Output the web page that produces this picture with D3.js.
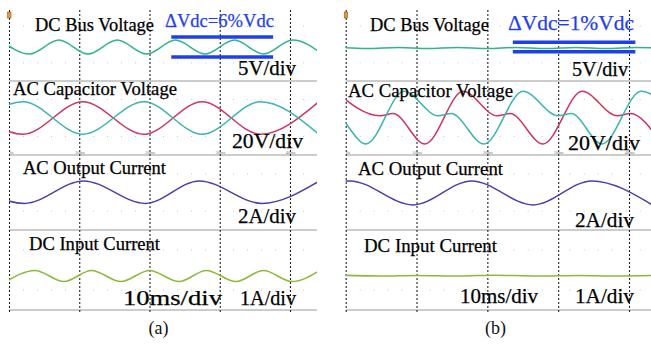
<!DOCTYPE html>
<html>
<head>
<meta charset="utf-8">
<script src="https://cdn.jsdelivr.net/npm/d3@7"></script>
<style>
  html, body { margin: 0; padding: 0; background: #fff; }
  svg { display: block; }
  text { font-family: "Liberation Serif", "Times New Roman", serif; }
</style>
</head>
<body>
<div id="chart"></div>
<script>
// shared axis / label text
const timeTicks = [0, 10, 20, 30, 40]
const tickLabels = ['0s', '10ms', '20ms', '30ms', '40ms']
const rowTitles = ['DC Bus Voltage', 'AC Capacitor Voltage', 'AC Output Current', 'DC Input Current']
const scaleLabels = ['5V/div', '20V/div', '2A/div', '1A/div']
const timeLabel = '10ms/div'
const panelLabels = ['(a)', '(b)']
const rippleLabels = ['ΔVdc=6%Vdc', 'ΔVdc=1%Vdc']

// traces: [time in ms, value in divisions from the row centre]
// (a) conventional
const dcBusA = [[-1.2, 0.12], [2.9, -0.26], [7.1, 0.12], [11.25, -0.26], [15.4, 0.12], [19.6, -0.26], [23.7, 0.12], [27.9, -0.26], [32.1, 0.12], [36.2, -0.26], [40.4, 0.12], [44.6, -0.26]]
const capTealA = [[-6.3, -0.44], [2.0, 0.44], [10.5, -0.44], [19.2, 0.44], [27.5, -0.44], [35.8, 0.44], [44.1, -0.44]]
const capRedA = [[-6.3, 0.44], [2.0, -0.44], [10.5, 0.44], [19.2, -0.44], [27.5, 0.44], [35.8, -0.44], [44.1, 0.44]]
const acOutA = [[-6.0, 0.31], [2.2, -0.29], [10.6, 0.31], [19.4, -0.29], [27.1, 0.31], [36.0, -0.29], [44.2, 0.31]]
const dcInA = [[-0.4, -0.29], [3.7, -0.01], [7.83, -0.29], [11.74, -0.01], [15.94, -0.29], [20.0, -0.01], [24.2, -0.29], [28.11, -0.01], [32.31, -0.29], [36.23, -0.01], [40.28, -0.29], [44.27, -0.01]]
const rippleBandA = [0.205, -0.34]
const rippleSpanA = [23.1, 37.6]

// (b) proposed
const dcBusB = [[-1, -0.08], [3, -0.11], [7.5, -0.08], [11.5, -0.11], [15.8, -0.08], [20, -0.11], [24, -0.08], [28.3, -0.11], [32.5, -0.08], [36.7, -0.11], [41, -0.08], [45, -0.11]]
const capRedB = [[-1.5, 0.72], [4.84, 0.06], [6.68, 0.12], [11.2, -0.70], [16.57, 0.72], [21.37, 0.06], [23.2, 0.12], [27.87, -0.70], [33.38, 0.72], [38.33, 0.06], [40.16, 0.12], [44.6, -0.70]]
const capTealB = [[-3.5, 0.06], [-1.7, 0.12], [2.87, -0.70], [8.23, 0.72], [13.04, 0.06], [14.87, 0.12], [19.53, -0.70], [25.04, 0.72], [29.98, 0.06], [31.82, 0.12], [36.2, -0.70], [41.71, 0.72], [46.6, 0.06]]
const acOutB = [[-8, -0.33], [0.6, 0.31], [9.5, -0.33], [17.8, 0.31], [26.45, -0.33], [34.75, 0.31], [43.3, -0.33]]
const dcInB = [[-1, -0.13], [5, -0.15], [10, -0.135], [16, -0.15], [21, -0.13], [27, -0.15], [33, -0.135], [38, -0.15], [44, -0.135]]
const rippleBandB = [0.06, -0.197]
const rippleSpanB = [23.6, 40.9]

const W = 651, H = 345
const rowEdges = [8, 81, 155, 230, 310]
const blue = '#1f3fef'

const svg = d3.select('#chart').append('svg')
  .attr('width', W)
  .attr('height', H)

const panels = [
  {
    id: 'a', x0: 9, x40: 290, right: 317,
    traces: [
      { row: 0, data: dcBusA, color: '#2fb48c' },
      { row: 1, data: capRedA, color: '#cf3460' },
      { row: 1, data: capTealA, color: '#3ab4b0' },
      { row: 2, data: acOutA, color: '#4a3ea8' },
      { row: 3, data: dcInA, color: '#8cb83c' }
    ],
    band: rippleBandA, span: rippleSpanA, ripple: rippleLabels[0],
    // [x, baseline, textLength]
    titlePos: [[35, 31, 119], [13, 95, 164], [23, 174, 143], [29, 250, 131]],
    scalePos: [[238, 75, 58], [232, 148, 71], [238, 222.5, 58], [240, 305, 56]],
    timePos: [123, 305, 99],
    ripplePos: [165, 27, 109, 19],
    labelX: 158.5
  },
  {
    id: 'b', x0: 345.7, x40: 629, right: 651,
    traces: [
      { row: 0, data: dcBusB, color: '#2fb48c' },
      { row: 1, data: capRedB, color: '#cf3460' },
      { row: 1, data: capTealB, color: '#3ab4b0' },
      { row: 2, data: acOutB, color: '#4a3ea8' },
      { row: 3, data: dcInB, color: '#8cb83c' }
    ],
    band: rippleBandB, span: rippleSpanB, ripple: rippleLabels[1],
    titlePos: [[370, 31, 119], [348, 96.5, 165], [358, 175, 145], [364, 251.5, 133]],
    scalePos: [[572, 76, 56], [568, 150, 72], [575, 226.5, 59], [575, 303, 59]],
    timePos: [460, 303, 78],
    ripplePos: [508, 30, 126, 21],
    labelX: 495.5
  }
]

const rowY = rowEdges.slice(0, 4).map((top, i) =>
  d3.scaleLinear().domain([-1, 1]).range([rowEdges[i + 1], top]))

panels.forEach((p, pi) => {
  const x = d3.scaleLinear().domain([0, 40]).range([p.x0, p.x40])
  const g = svg.append('g')

  // clip to the scope screen
  g.append('clipPath').attr('id', 'clip-' + p.id)
    .append('rect')
    .attr('x', p.x0).attr('y', rowEdges[0])
    .attr('width', p.right - p.x0).attr('height', rowEdges[4] - rowEdges[0])

  // faint dotted graticule
  const grid = g.append('g').attr('clip-path', `url(#clip-${p.id})`)
  rowY.forEach(y => {
    [-0.5, 0.5].forEach(v => {
      grid.append('line')
        .attr('x1', p.x0).attr('x2', p.right)
        .attr('y1', y(v)).attr('y2', y(v))
        .attr('stroke', '#c8c8c8').attr('stroke-width', 1)
        .attr('stroke-dasharray', '1,13')
    })
  })

  // row separators
  g.selectAll('line.sep')
    .data(rowEdges.slice(1))
    .join('line')
    .attr('class', 'sep')
    .attr('x1', p.x0).attr('x2', p.right)
    .attr('y1', d => d).attr('y2', d => d)
    .attr('stroke', '#9a9a9a').attr('stroke-width', 1.2)

  // vertical dashed division lines
  const vAxis = d3.axisBottom(x).tickValues(timeTicks)
    .tickSize(-(rowEdges[4] - rowEdges[0] + 2)).tickFormat('')
  g.append('g').attr('transform', `translate(0,${rowEdges[4] + 2})`)
    .call(vAxis)
    .call(s => s.select('.domain').remove())
    .call(s => s.selectAll('.tick line')
      .attr('stroke', '#222').attr('stroke-width', 1.1).attr('stroke-dasharray', '2,2'))

  // tiny scope time labels
  const tAxis = d3.axisTop(x).tickValues(timeTicks).tickSize(0).tickPadding(1.5)
    .tickFormat((d, i) => tickLabels[i])
  g.append('g').attr('transform', `translate(0,${rowEdges[2]})`)
    .call(tAxis)
    .call(s => s.select('.domain').remove())
    .call(s => s.selectAll('.tick text')
      .attr('font-size', 4.5).attr('fill', '#777')
      .attr('font-family', 'DejaVu Sans, sans-serif')
      .attr('text-anchor', (d, i) => i === 0 ? 'start' : 'middle'))

  // traces
  const traces = g.append('g').attr('clip-path', `url(#clip-${p.id})`)
  p.traces.forEach(t => {
    const line = d3.line()
      .x(d => x(d[0]))
      .y(d => rowY[t.row](d[1]))
      .curve(d3.curveMonotoneX)
    traces.append('path')
      .datum(t.data)
      .attr('d', line)
      .attr('fill', 'none')
      .attr('stroke', t.color)
      .attr('stroke-width', 1.5)
  })

  // trigger marker
  g.append('rect')
    .attr('x', p.x0 - 1.5).attr('y', 12)
    .attr('width', 3.5).attr('height', 6)
    .attr('fill', '#e89a3a').attr('stroke', '#7a4a10').attr('stroke-width', 0.5)

  // ripple band bars
  g.selectAll('line.band')
    .data(p.band)
    .join('line')
    .attr('class', 'band')
    .attr('x1', x(p.span[0])).attr('x2', x(p.span[1]))
    .attr('y1', d => rowY[0](d)).attr('y2', d => rowY[0](d))
    .attr('stroke', blue).attr('stroke-width', 3.5)

  // labels (slightly heavy, like the scanned figure)
  const addText = (str, pos, size, fill) => g.append('text')
    .attr('x', pos[0]).attr('y', pos[1])
    .attr('textLength', pos[2]).attr('lengthAdjust', 'spacingAndGlyphs')
    .attr('font-size', size).attr('fill', fill)
    .attr('stroke', fill).attr('stroke-width', 0.25)
    .text(str)

  rowTitles.forEach((s, i) => addText(s, p.titlePos[i], 18.5, '#000'))
  scaleLabels.forEach((s, i) => addText(s, p.scalePos[i], 21, '#000'))
  addText(timeLabel, p.timePos, 21, '#000')
  addText(p.ripple, p.ripplePos, p.ripplePos[3], blue)

  g.append('text')
    .attr('x', p.labelX).attr('y', 334)
    .attr('text-anchor', 'middle')
    .attr('font-size', 18).attr('fill', '#111')
    .text(panelLabels[pi])
})
</script>
</body>
</html>
